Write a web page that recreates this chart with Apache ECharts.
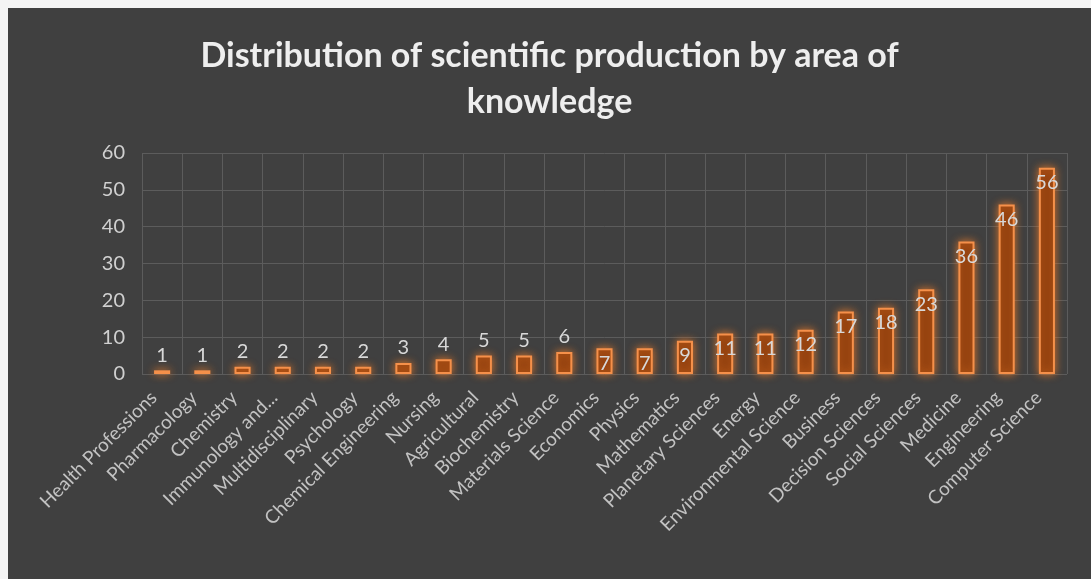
<!DOCTYPE html>
<html>
<head>
<meta charset="utf-8">
<script src="https://cdn.jsdelivr.net/npm/echarts@6/dist/echarts.min.js"></script>
<style>
html, body { margin: 0; padding: 0; background: #f4f4f4; }
#chart { position: absolute; left: 8px; top: 8px; width: 1083px; height: 571px; background: #404040; }
</style>
</head>
<body>
<div id="chart"></div>
<script>
const areas = ['Health Professions', 'Pharmacology', 'Chemistry', 'Immunology and...', 'Multidisciplinary',
    'Psychology', 'Chemical Engineering', 'Nursing', 'Agricultural', 'Biochemistry', 'Materials Science',
    'Economics', 'Physics', 'Mathematics', 'Planetary Sciences', 'Energy', 'Environmental Science',
    'Business', 'Decision Sciences', 'Social Sciences', 'Medicine', 'Engineering', 'Computer Science']
const papers = [1, 1, 2, 2, 2, 2, 3, 4, 5, 5, 6, 7, 7, 9, 11, 11, 12, 17, 18, 23, 36, 46, 56]
const yTicks = [0, 10, 20, 30, 40, 50, 60]

const chart = echarts.init(document.getElementById('chart'))
chart.setOption({
    backgroundColor: '#404040',
    title: {
        text: 'Distribution of scientific production by area of\nknowledge',
        left: 'center',
        top: 20,
        textStyle: {
            color: '#eeeeee',
            fontSize: 34,
            fontWeight: 'bold',
            fontFamily: 'Lato',
            lineHeight: 46,
        },
    },
    grid: {
        left: 134,
        right: 24,
        top: 145,
        bottom: 205,
    },
    xAxis: {
        type: 'category',
        data: areas,
        axisLine: { show: false },
        axisTick: { show: false },
        splitLine: {
            show: true,
            lineStyle: { color: '#5c5c5c', width: 1 },
        },
        axisLabel: {
            interval: 0,
            rotate: 45,
            margin: 12,
            padding: [0, 12, 0, 0],
            color: '#c2c2c2',
            fontSize: 19,
            fontFamily: 'Lato',
        },
    },
    yAxis: {
        type: 'value',
        min: yTicks[0],
        max: yTicks[yTicks.length - 1],
        interval: 10,
        axisLine: { show: false },
        axisTick: { show: false },
        splitLine: {
            lineStyle: { color: '#5c5c5c', width: 1 },
        },
        axisLabel: {
            margin: 17,
            color: '#d0d0d0',
            fontSize: 20,
            fontFamily: 'Lato',
        },
    },
    series: [{
        type: 'bar',
        barWidth: '40%',
        data: papers.map(v => ({
            value: v,
            label: { position: v >= 7 ? 'insideTop' : 'top' },
        })),
        itemStyle: {
            color: '#8e3e0e',
            borderColor: '#f5904a',
            borderWidth: 2,
            shadowColor: 'rgba(240,125,40,0.85)',
            shadowBlur: 8,
        },
        label: {
            show: true,
            color: '#d8d8d8',
            fontSize: 20,
            fontFamily: 'Lato',
            distance: 5,
        },
    }],
})
</script>
</body>
</html>
